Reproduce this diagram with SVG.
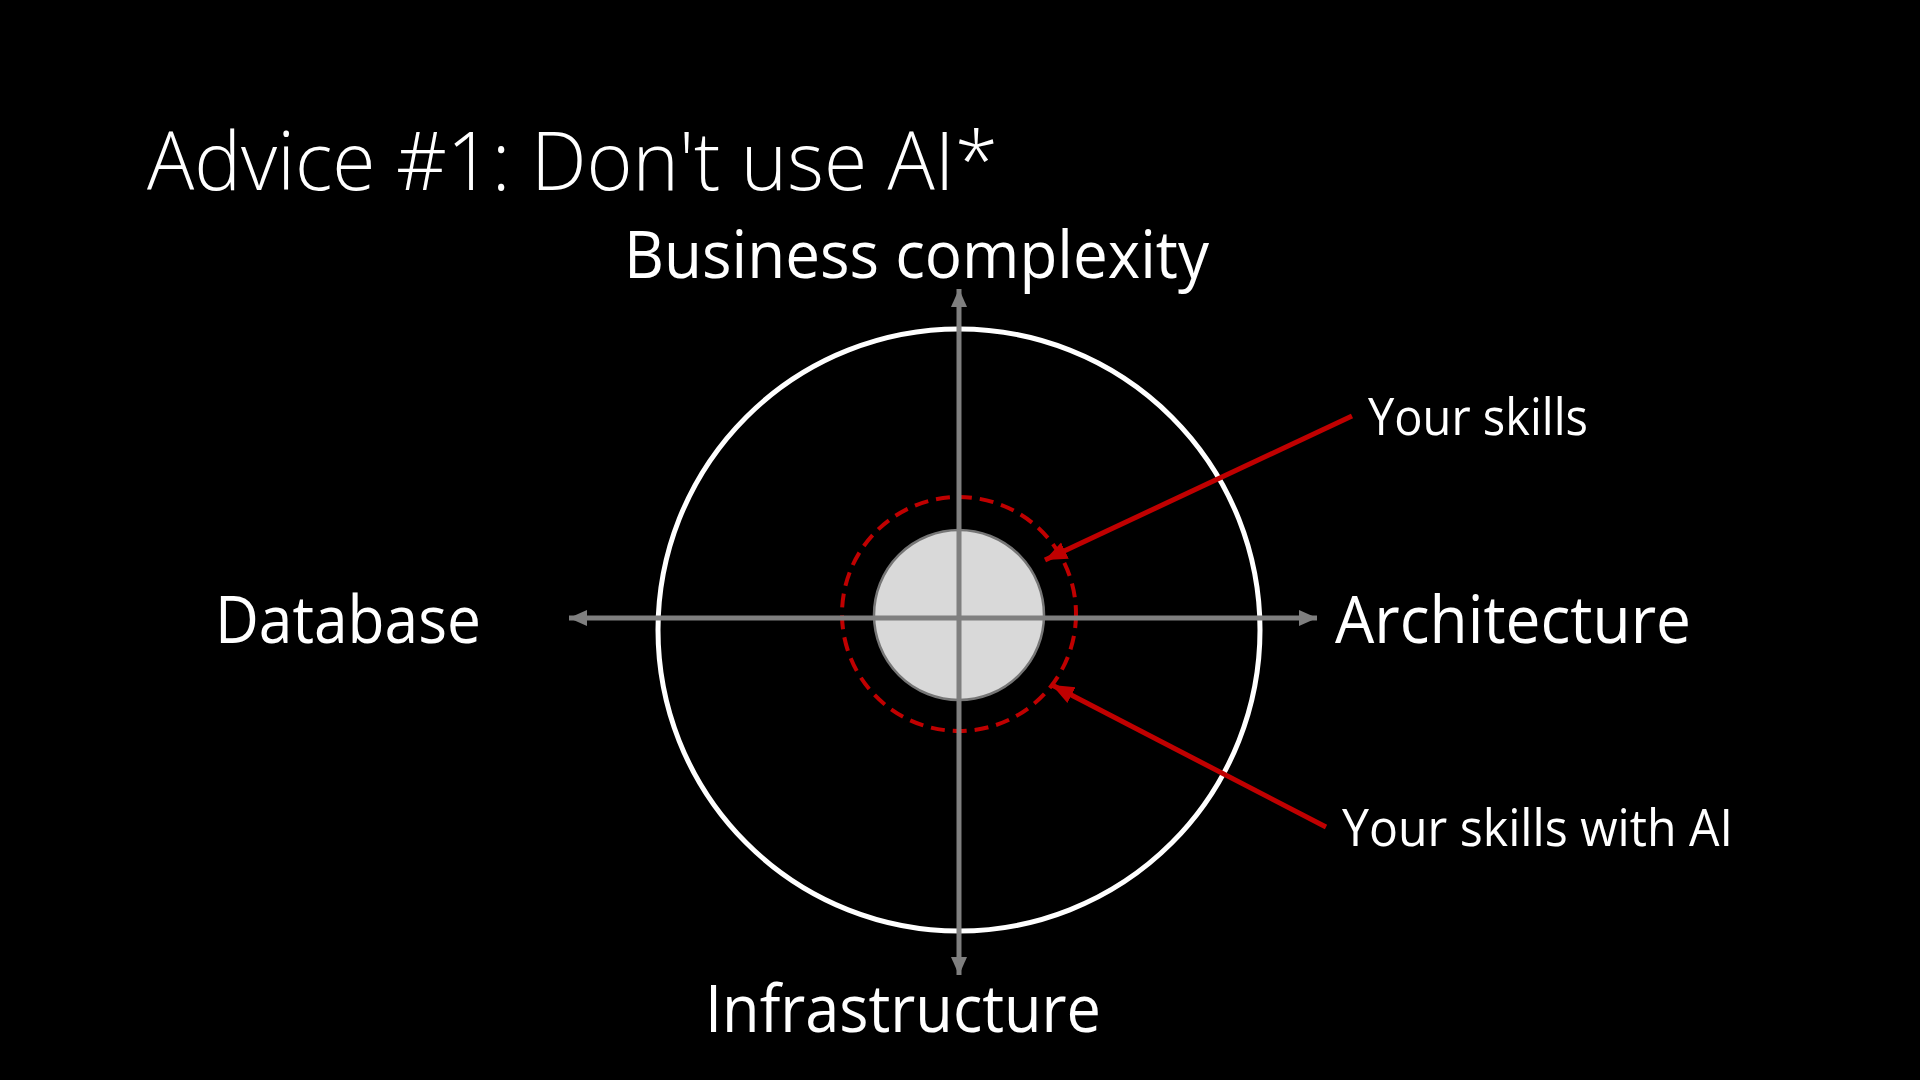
<svg xmlns="http://www.w3.org/2000/svg" width="1920" height="1080" viewBox="0 0 1920 1080">
<style>
  text { font-family: "Open Sans", "Liberation Sans", sans-serif; fill: #FFFFFF; }
  .axis { stroke: #7F7F7F; stroke-width: 5; fill: none; }
  .red { stroke: #C00000; stroke-width: 5; fill: none; }
  .label { font-size: 66px; }
  .small { font-size: 52px; }
</style>
<defs>
  <marker id="gh" markerUnits="userSpaceOnUse" markerWidth="20" markerHeight="18" refX="18" refY="9" orient="auto">
    <path d="M0,1 L18,9 L0,17 Z" fill="#7F7F7F"/>
  </marker>
  <marker id="rh" markerUnits="userSpaceOnUse" markerWidth="24" markerHeight="20" refX="22" refY="10" orient="auto">
    <path d="M0,1 L22,10 L0,19 Z" fill="#C00000"/>
  </marker>
</defs>
<rect width="1920" height="1080" fill="#000000"/>
<text id="title" x="147" y="190" font-size="82" font-weight="300" textLength="851" lengthAdjust="spacingAndGlyphs">Advice #1: Don't use AI*</text>
<g id="outer-circle"><circle cx="959" cy="630" r="301" fill="none" stroke="#FFFFFF" stroke-width="5"/></g>
<g id="skills-with-ai-circle"><circle cx="959" cy="614" r="117" fill="none" stroke="#C00000" stroke-width="4" stroke-dasharray="14 8"/></g>
<g id="skills-circle"><circle cx="959" cy="615" r="85" fill="#D9D9D9" stroke="#767676" stroke-width="2.5"/></g>
<g id="connectors">
  <line class="axis" x1="959" y1="618" x2="959" y2="289" marker-end="url(#gh)"/>
  <line class="axis" x1="959" y1="618" x2="959" y2="975" marker-end="url(#gh)"/>
  <line class="axis" x1="959" y1="618" x2="569" y2="618" marker-end="url(#gh)"/>
  <line class="axis" x1="959" y1="618" x2="1317" y2="618" marker-end="url(#gh)"/>
  <line class="red" x1="1352" y1="416" x2="1045" y2="560" marker-end="url(#rh)"/>
  <line class="red" x1="1326" y1="827" x2="1052" y2="685" marker-end="url(#rh)"/>
</g>
<g id="business"><text class="label" x="624" y="278" textLength="585" lengthAdjust="spacingAndGlyphs">Business complexity</text></g>
<g id="database"><text class="label" x="215" y="643" textLength="266" lengthAdjust="spacingAndGlyphs">Database</text></g>
<g id="architecture"><text class="label" x="1335" y="643" textLength="356" lengthAdjust="spacingAndGlyphs">Architecture</text></g>
<g id="infrastructure"><text class="label" x="705" y="1032" textLength="396" lengthAdjust="spacingAndGlyphs">Infrastructure</text></g>
<g id="your-skills"><text class="small" x="1368" y="435" textLength="220" lengthAdjust="spacingAndGlyphs">Your skills</text></g>
<g id="your-skills-ai"><text class="small" x="1342" y="846" textLength="391" lengthAdjust="spacingAndGlyphs">Your skills with AI</text></g>
</svg>
